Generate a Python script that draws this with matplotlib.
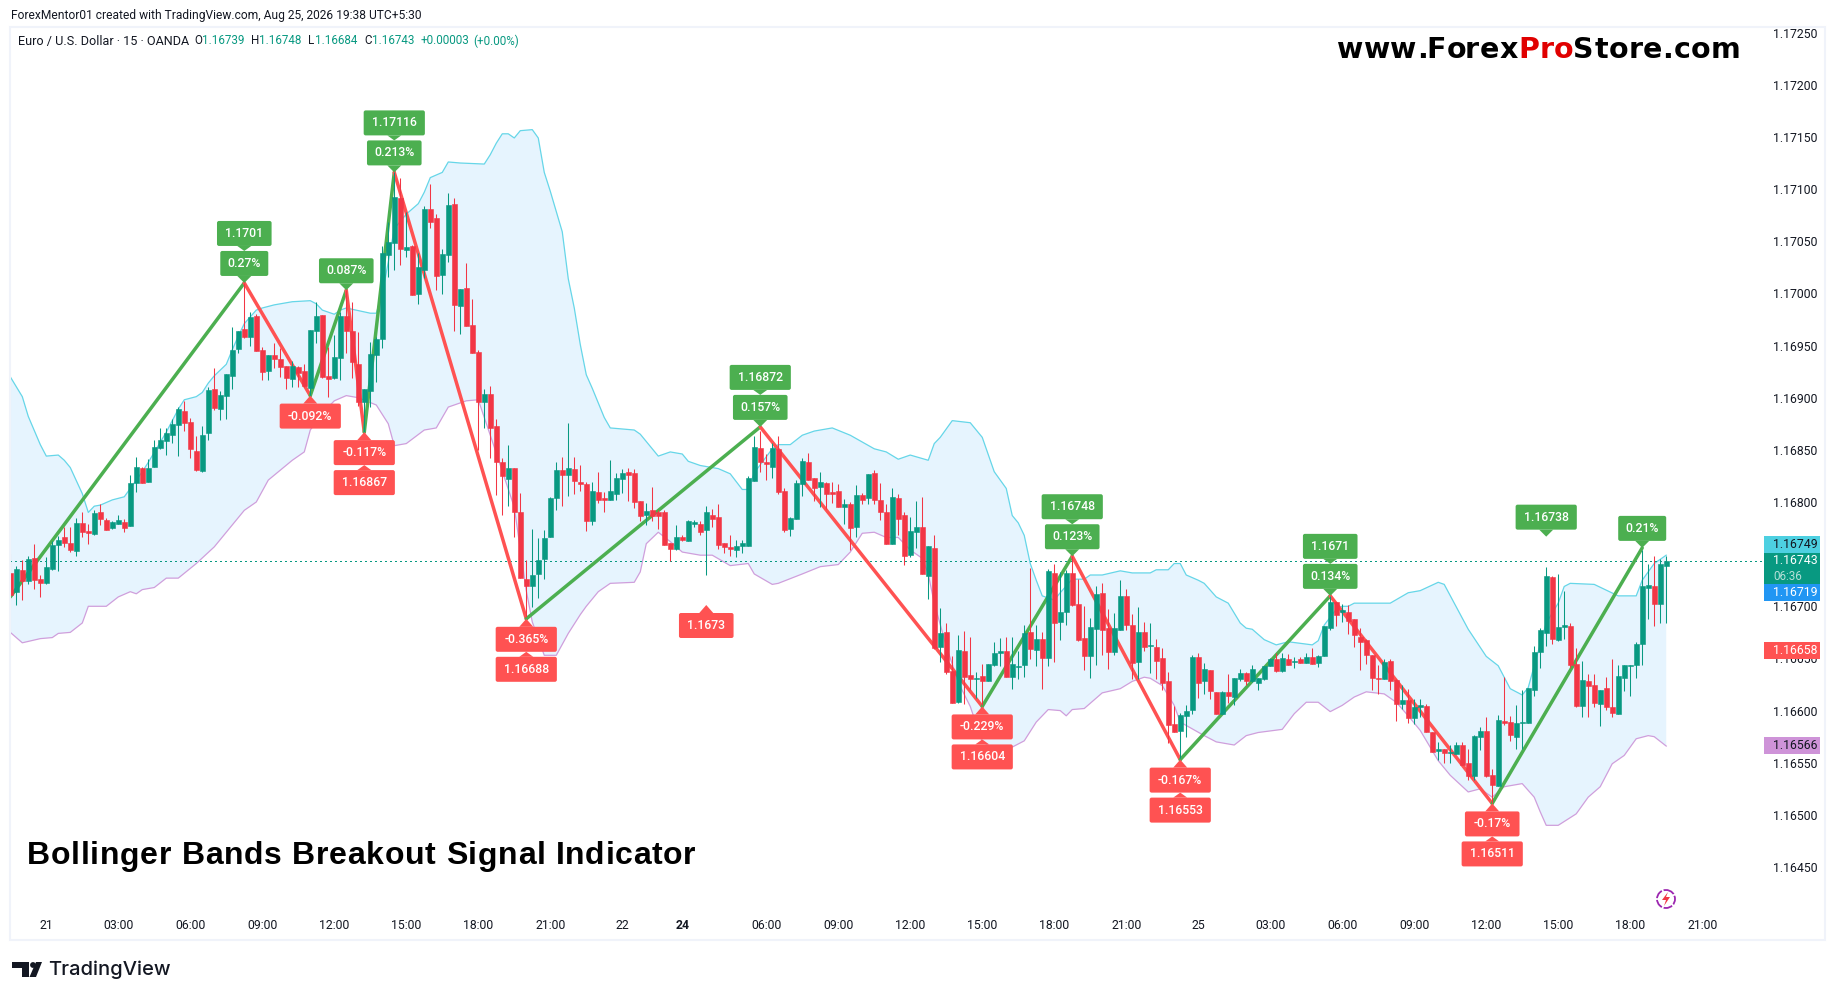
import matplotlib
matplotlib.use("Agg")
import matplotlib.pyplot as plt
from matplotlib.font_manager import FontProperties
from matplotlib.patches import Circle, FancyBboxPatch, Polygon, Rectangle
import numpy as np

# Prices are stored as points above 1.16000, so 743 means 1.16743
opens = [732, 714, 735, 724, 746, 726, 722, 736, 759, 766,
         761, 753, 780, 772, 769, 790, 783, 775, 779, 781,
         777, 818, 833, 819, 834, 852, 858, 864, 874, 887,
         877, 849, 830, 866, 908, 889, 902, 921, 947, 966,
         958, 978, 946, 926, 941, 937, 930, 918, 929, 926,
         909, 964, 979, 921, 919, 938, 978, 964, 932, 896,
         906, 941, 956, 1037, 1048, 1091, 1042, 1045, 999, 1022,
         1081, 1072, 1018, 1037, 1086, 988, 1005, 970, 944, 896,
         904, 873, 838, 822, 833, 790, 726, 719, 731, 745,
         766, 804, 831, 826, 832, 819, 817, 782, 810, 804,
         802, 808, 822, 829, 828, 801, 788, 792, 790, 790,
         761, 755, 766, 763, 779, 779, 773, 788, 786, 761,
         757, 754, 758, 758, 820, 852, 838, 834, 851, 811,
         774, 784, 817, 838, 823, 814, 818, 810, 811, 795,
         798, 776, 807, 804, 828, 802, 790, 760, 804, 788,
         749, 771, 776, 729, 756, 661, 675, 638, 608, 657,
         634, 630, 633, 628, 644, 655, 657, 632, 642, 644,
         675, 658, 669, 650, 732, 685, 695, 732, 702, 670,
         652, 678, 713, 679, 656, 677, 710, 682, 647, 675,
         662, 661, 650, 628, 587, 580, 595, 601, 651, 628,
         639, 618, 597, 618, 613, 630, 636, 628, 626, 630,
         643, 649, 638, 649, 647, 649, 646, 651, 646, 652,
         679, 704, 695, 695, 688, 671, 668, 653, 631, 630,
         648, 629, 606, 610, 593, 603, 604, 579, 561, 563,
         559, 558, 567, 550, 537, 575, 580, 538, 528, 590,
         589, 575, 588, 588, 620, 656, 674, 728, 668, 680,
         681, 645, 604, 628, 625, 606, 622, 603, 597, 631,
         643, 644, 664, 718, 719, 702, 739]
highs = [750, 739, 744, 748, 760, 730, 747, 763, 767, 776,
         776, 785, 790, 779, 792, 798, 785, 782, 788, 784,
         826, 843, 834, 841, 859, 871, 871, 880, 891, 897,
         881, 863, 873, 910, 928, 906, 923, 968, 964, 1010,
         982, 980, 949, 941, 952, 948, 930, 935, 930, 932,
         965, 992, 979, 949, 960, 982, 1003, 992, 963, 908,
         953, 958, 1045, 1068, 1116, 1111, 1078, 1046, 1039, 1084,
         1105, 1076, 1043, 1096, 1091, 1004, 1029, 995, 946, 908,
         911, 880, 842, 855, 833, 809, 744, 774, 765, 773,
         805, 838, 843, 876, 843, 835, 819, 819, 829, 810,
         840, 828, 832, 833, 832, 801, 799, 814, 792, 792,
         761, 778, 768, 783, 783, 782, 796, 793, 798, 761,
         768, 764, 764, 825, 863, 868, 846, 857, 863, 813,
         786, 821, 842, 847, 823, 829, 819, 819, 817, 803,
         800, 816, 809, 827, 831, 818, 798, 813, 808, 790,
         786, 801, 805, 758, 768, 698, 684, 652, 672, 676,
         671, 637, 645, 645, 666, 670, 671, 671, 657, 682,
         737, 682, 675, 736, 741, 733, 735, 748, 726, 700,
         689, 719, 722, 697, 694, 725, 717, 693, 699, 685,
         684, 669, 660, 637, 604, 598, 605, 653, 655, 646,
         639, 618, 619, 635, 631, 640, 637, 644, 631, 643,
         650, 655, 655, 654, 651, 651, 655, 660, 653, 681,
         710, 704, 702, 701, 688, 679, 669, 653, 644, 649,
         649, 630, 625, 621, 611, 611, 606, 579, 570, 563,
         567, 570, 570, 563, 577, 584, 594, 544, 596, 632,
         595, 605, 620, 622, 662, 679, 738, 729, 731, 715,
         684, 660, 648, 635, 635, 620, 632, 649, 644, 644,
         644, 666, 754, 741, 748, 745, 748]
lows = [706, 701, 706, 721, 717, 709, 721, 735, 734, 757,
        752, 748, 766, 760, 768, 778, 773, 774, 779, 771,
        777, 810, 818, 819, 834, 851, 845, 857, 844, 868,
        842, 830, 829, 859, 888, 879, 880, 908, 943, 957,
        950, 945, 917, 917, 928, 920, 908, 910, 910, 910,
        901, 952, 919, 901, 918, 917, 943, 919, 892, 867,
        891, 915, 948, 1016, 1022, 1027, 1035, 998, 990, 1015,
        1063, 1003, 999, 1030, 964, 961, 969, 943, 850, 871,
        842, 807, 788, 796, 766, 727, 690, 699, 708, 726,
        766, 792, 796, 806, 808, 811, 772, 778, 799, 790,
        802, 802, 809, 801, 794, 782, 778, 782, 774, 759,
        743, 754, 763, 763, 776, 768, 730, 776, 755, 751,
        748, 747, 751, 758, 820, 829, 821, 823, 808, 771,
        767, 784, 806, 821, 801, 795, 793, 799, 795, 779,
        754, 766, 798, 798, 798, 783, 760, 760, 768, 740,
        747, 756, 731, 707, 659, 647, 635, 607, 607, 606,
        620, 612, 605, 628, 643, 643, 632, 621, 630, 632,
        649, 643, 621, 643, 647, 668, 682, 700, 667, 639,
        631, 644, 653, 640, 653, 677, 677, 630, 630, 657,
        636, 630, 620, 569, 579, 555, 575, 597, 612, 616,
        611, 597, 597, 607, 605, 628, 625, 627, 620, 629,
        643, 637, 637, 644, 641, 646, 646, 645, 642, 652,
        677, 681, 685, 673, 661, 639, 645, 620, 616, 630,
        620, 590, 602, 588, 587, 594, 579, 560, 553, 550,
        550, 558, 548, 533, 533, 562, 536, 511, 528, 586,
        571, 563, 563, 588, 614, 641, 662, 664, 667, 669,
        641, 603, 594, 594, 603, 585, 601, 594, 597, 619,
        614, 631, 644, 688, 681, 684, 684]
closes = [711, 736, 724, 745, 725, 722, 738, 759, 764, 761,
          754, 780, 771, 770, 789, 784, 773, 781, 783, 775,
          818, 834, 818, 833, 853, 859, 866, 875, 889, 876,
          851, 831, 864, 907, 890, 903, 923, 946, 964, 958,
          977, 945, 925, 941, 937, 929, 919, 930, 924, 911,
          965, 978, 920, 918, 939, 978, 964, 934, 896, 908,
          942, 956, 1039, 1049, 1092, 1043, 1044, 998, 1025, 1081,
          1068, 1017, 1038, 1085, 989, 1004, 969, 943, 896, 904,
          871, 838, 825, 833, 790, 727, 719, 730, 744, 765,
          804, 831, 826, 833, 820, 817, 782, 811, 802, 802,
          811, 823, 828, 826, 800, 787, 791, 787, 787, 759,
          755, 766, 764, 782, 781, 771, 790, 784, 759, 757,
          755, 758, 761, 823, 853, 838, 836, 852, 810, 773,
          785, 818, 839, 821, 813, 819, 808, 808, 795, 798,
          775, 807, 802, 827, 802, 790, 760, 805, 784, 748,
          772, 776, 731, 758, 660, 674, 637, 607, 658, 632,
          630, 631, 628, 645, 655, 657, 632, 645, 643, 674,
          659, 669, 650, 734, 684, 695, 732, 701, 668, 652,
          680, 712, 677, 656, 679, 710, 682, 646, 675, 661,
          663, 648, 626, 586, 579, 596, 600, 651, 626, 640,
          619, 597, 618, 614, 631, 636, 628, 640, 631, 643,
          649, 638, 650, 644, 648, 646, 651, 645, 652, 681,
          704, 692, 696, 686, 672, 666, 653, 631, 630, 647,
          628, 606, 610, 593, 603, 605, 579, 560, 563, 559,
          560, 567, 548, 537, 576, 580, 537, 529, 591, 588,
          577, 588, 589, 622, 656, 677, 729, 669, 680, 682,
          644, 604, 629, 624, 607, 620, 603, 598, 633, 644,
          644, 664, 719, 720, 702, 741, 743]

# Bollinger band vertices (bar number, price points)
upper_bars = [0, 2, 3, 5, 6, 8, 9, 10, 12, 13, 14, 15, 17, 19, 20, 22, 23, 26, 28, 29,
              31, 32, 33, 34, 36, 37, 38, 39, 41, 42, 44, 47, 50, 51, 52, 54, 55, 56, 60, 61,
              62, 63, 64, 66, 68, 69, 70, 72, 73, 75, 79, 80, 81, 82, 83, 84, 85, 87, 88, 89,
              90, 92, 93, 94, 95, 96, 97, 99, 100, 104, 105, 108, 110, 112, 113, 115, 118, 120, 122, 123,
              124, 127, 128, 130, 132, 134, 137, 140, 144, 146, 148, 150, 153, 154, 155, 157, 160, 162, 164, 166,
              167, 168, 169, 170, 171, 172, 174, 175, 177, 179, 180, 182, 185, 187, 190, 191, 193, 194, 195, 196,
              198, 199, 201, 203, 205, 206, 207, 209, 211, 213, 217, 218, 219, 221, 222, 223, 224, 230, 233, 235,
              238, 239, 243, 246, 248, 250, 252, 253, 254, 256, 258, 259, 260, 264, 268, 271, 272, 274, 276]
upper_band = [920, 901, 882, 855, 844, 845, 840, 833, 808, 790, 796, 797, 802, 805, 813, 829, 838, 867, 889, 898,
              901, 905, 914, 921, 932, 946, 959, 971, 984, 986, 989, 992, 993, 990, 984, 980, 984, 986, 981, 981,
              1000, 1030, 1062, 1076, 1086, 1097, 1111, 1116, 1126, 1125, 1124, 1133, 1144, 1153, 1153, 1149, 1156, 1157, 1149, 1116,
              1098, 1059, 1014, 986, 951, 922, 909, 881, 871, 869, 865, 844, 848, 846, 839, 835, 832, 827, 812, 812,
              828, 851, 855, 855, 864, 868, 871, 864, 851, 848, 841, 845, 840, 856, 862, 878, 876, 862, 829, 813,
              787, 780, 768, 741, 725, 710, 706, 713, 726, 726, 730, 730, 734, 732, 732, 735, 735, 741, 741, 730,
              725, 722, 709, 703, 684, 679, 678, 668, 663, 666, 663, 667, 682, 697, 700, 700, 703, 703, 713, 715,
              723, 721, 678, 652, 643, 621, 615, 622, 643, 684, 703, 719, 722, 721, 710, 710, 725, 741, 749]
lower_bars = [0, 2, 5, 7, 8, 10, 12, 13, 16, 18, 20, 21, 22, 24, 26, 28, 31, 34, 39, 41,
              43, 47, 49, 50, 52, 54, 56, 58, 61, 63, 64, 66, 69, 71, 73, 76, 78, 81, 84, 86,
              87, 89, 91, 93, 95, 96, 98, 100, 104, 105, 106, 108, 110, 112, 115, 117, 120, 123, 124, 127,
              128, 132, 135, 138, 140, 142, 144, 146, 148, 150, 152, 153, 154, 156, 158, 160, 162, 165, 167, 169,
              171, 173, 175, 176, 177, 179, 182, 185, 187, 189, 190, 192, 194, 195, 199, 201, 204, 206, 208, 212,
              214, 216, 218, 220, 222, 224, 226, 229, 231, 233, 235, 238, 240, 243, 245, 247, 249, 252, 254, 255,
              256, 258, 261, 263, 265, 267, 269, 271, 273, 274, 276]
lower_band = [675, 665, 669, 670, 674, 675, 684, 700, 700, 709, 714, 712, 716, 718, 727, 727, 741, 757, 792, 800,
              821, 840, 848, 869, 885, 897, 902, 900, 893, 875, 854, 856, 869, 871, 891, 897, 898, 847, 795, 715,
              685, 653, 653, 674, 692, 700, 714, 722, 723, 733, 760, 771, 762, 752, 749, 749, 739, 741, 731, 721,
              722, 731, 738, 740, 752, 770, 771, 766, 766, 754, 746, 731, 703, 662, 627, 604, 570, 560, 565, 571,
              589, 601, 600, 595, 601, 602, 617, 621, 628, 632, 631, 624, 605, 589, 576, 570, 567, 576, 579, 582,
              597, 608, 608, 599, 605, 613, 618, 616, 608, 595, 581, 552, 538, 522, 525, 517, 527, 530, 517, 503,
              490, 490, 501, 517, 527, 549, 557, 573, 576, 575, 566]

# Zigzag turning points
zigzag_bars = [0, 39, 50, 56, 59, 64, 86, 125, 162, 177, 195, 220, 247, 272]
zigzag_prices = [709, 1010, 902, 1003, 867, 1116, 688, 872, 604, 748, 553, 710, 511, 756]

# Signal labels: price text and percent text for each marker
up_bars = [39, 56, 64, 125, 177, 220, 256, 272]
up_prices = [1010, 1003, 1116, 872, 748, 710, 738, 756]
up_price_text = ["1.1701", "", "1.17116", "1.16872", "1.16748", "1.1671", "1.16738", ""]
up_pct_text = ["0.27%", "0.087%", "0.213%", "0.157%", "0.123%", "0.134%", "", "0.21%"]
down_bars = [50, 59, 86, 116, 162, 195, 247]
down_prices = [902, 867, 688, 730, 604, 553, 511]
down_price_text = ["", "1.16867", "1.16688", "1.1673", "1.16604", "1.16553", "1.16511"]
down_pct_text = ["-0.092%", "-0.117%", "-0.365%", "", "-0.229%", "-0.167%", "-0.17%"]

# Axis ticks, the 1.16750 label sits behind the price tags so it stays blank
x_tick_bars = [6, 18, 30, 42, 54, 66, 78, 90, 102, 112, 126, 138, 150, 162, 174, 186, 198,
               210, 222, 234, 246, 258, 270, 282]
x_tick_labels = ["21", "03:00", "06:00", "09:00", "12:00", "15:00", "18:00", "21:00", "22", "24",
                 "06:00", "09:00", "12:00", "15:00", "18:00", "21:00", "25",
                 "03:00", "06:00", "09:00", "12:00", "15:00", "18:00", "21:00"]
y_ticks = [1.17250, 1.17200, 1.17150, 1.17100, 1.17050, 1.17000, 1.16950, 1.16900, 1.16850,
           1.16800, 1.16700, 1.16650, 1.16600, 1.16550, 1.16500, 1.16450]
last_price = 743

GREEN = "#089981"
RED = "#f23645"
SIGNAL_GREEN = "#4caf50"
SIGNAL_RED = "#ff5252"
BAND_FILL = "#e6f4fe"
BAND_UP = "#66d6e8"
BAND_LOW = "#cf9fdc"
TEXT = "#131722"
FONT = "Roboto"


def price(points):
    return 1.16 + np.asarray(points, dtype=float) / 100000


def draw_candles(ax):
    bars = np.arange(len(opens))
    o, h, l, c = price(opens), price(highs), price(lows), price(closes)
    colors = [GREEN if closes[i] >= opens[i] else RED for i in bars]
    ax.vlines(bars, l, h, colors=colors, linewidth=0.75, zorder=5)
    bottoms = np.minimum(o, c)
    heights = np.abs(c - o)
    ax.bar(bars, heights, bottom=bottoms, width=0.78, color=colors, edgecolor=colors,
           linewidth=0.4, zorder=6)


def draw_zigzag(ax):
    for k in range(len(zigzag_bars) - 1):
        color = SIGNAL_GREEN if zigzag_prices[k + 1] > zigzag_prices[k] else SIGNAL_RED
        ax.plot(zigzag_bars[k:k + 2], price(zigzag_prices[k:k + 2]), color=color,
                linewidth=2.5, solid_capstyle="round", zorder=4)


# Draws one rounded label box with a little triangle pointing at tip_y
def draw_box(over, cx, top, tip_y, text, color):
    width = 15 + 6.6 * len(text)
    height = 25
    over.add_patch(FancyBboxPatch((cx - width / 2, top), width, height,
                                  boxstyle="round,pad=0,rounding_size=2", facecolor=color,
                                  edgecolor="none", zorder=10))
    base_y = top if tip_y < top else top + height
    over.add_patch(Polygon([(cx - 7, base_y), (cx + 7, base_y), (cx, tip_y)], facecolor=color,
                           edgecolor="none", zorder=10))
    over.text(cx, top + height / 2, text, color="white", fontsize=8.8, fontweight="medium",
              family=FONT, ha="center", va="center", zorder=11)


def draw_labels(ax, over):
    for bar, value, price_text, pct_text in zip(up_bars, up_prices, up_price_text, up_pct_text):
        x, y = ax.transData.transform((bar, price(value)))
        y = 1000 - y
        if pct_text:
            draw_box(over, x, y - 32, y, pct_text, SIGNAL_GREEN)
        if price_text:
            draw_box(over, x, y - 62, y - 32 if pct_text else y - 30, price_text, SIGNAL_GREEN)
    for bar, value, price_text, pct_text in zip(down_bars, down_prices, down_price_text, down_pct_text):
        x, y = ax.transData.transform((bar, price(value)))
        y = 1000 - y
        if pct_text:
            draw_box(over, x, y + 8, y, pct_text, SIGNAL_RED)
        if price_text:
            draw_box(over, x, y + 38, y + 33 if pct_text else y + 30, price_text, SIGNAL_RED)


def draw_price_tags(over):
    tags = [(536, 16.7, "1.16749", "#4dd0e1", TEXT),
            (584, 16.7, "1.16719", "#2196f3", "white"),
            (642, 16.7, "1.16658", SIGNAL_RED, "white"),
            (737, 16.7, "1.16566", "#ce93d8", TEXT)]
    for top, height, text, face, color in tags:
        over.add_patch(Rectangle((1764, top), 56, height, facecolor=face, edgecolor="none", zorder=10))
        over.text(1773, top + height / 2, text, color=color, fontsize=8.8, family=FONT,
                  va="center", zorder=11)
    over.add_patch(Rectangle((1764, 552.7), 56, 31.3, facecolor=GREEN, edgecolor="none", zorder=10))
    over.text(1773, 561, "1.16743", color="white", fontsize=8.8, family=FONT, va="center", zorder=11)
    over.text(1773, 576.5, "06:36", color="#b6e0d8", fontsize=8.4, family=FONT, va="center", zorder=11)


def draw_header(over):
    over.text(10.5, 15, "ForexMentor01 created with TradingView.com, Aug 25, 2026 19:38 UTC+5:30",
              color=TEXT, fontsize=8.65, family=FONT, va="center")
    over.text(18, 41, "Euro / U.S. Dollar · 15 · OANDA", color=TEXT, fontsize=9.1, family=FONT, va="center")
    parts = [(194, "O", TEXT), (202, "1.16739", GREEN),
             (251, "H", TEXT), (259, "1.16748", GREEN), (308, "L", TEXT), (315, "1.16684", GREEN),
             (364, "C", TEXT), (372, "1.16743", GREEN), (420.5, "+0.00003", GREEN),
             (473.5, "(+0.00%)", GREEN)]
    for x, text, color in parts:
        over.text(x, 41, text, color=color, fontsize=8.4, family=FONT, va="center")


# Writes text letter by letter so extra spacing can be put between the letters
def draw_spaced(fig, over, x, baseline, parts, spacing, size, family):
    renderer = fig.canvas.get_renderer()
    font = FontProperties(family=family, weight="bold", size=size)
    bar_width = renderer.get_text_width_height_descent("|", font, False)[0]
    for text, color in parts:
        for k, letter in enumerate(text):
            before = renderer.get_text_width_height_descent(text[:k] + "|", font, False)[0] - bar_width
            over.text(x + before + k * spacing, baseline, letter, color=color, fontproperties=font,
                      va="baseline", zorder=9)
        x += renderer.get_text_width_height_descent(text + "|", font, False)[0] - bar_width
        x += len(text) * spacing


def draw_logo(over):
    color = "#131722"
    over.add_patch(Polygon([(12, 962), (29, 962), (29, 977), (22, 977), (22, 968), (12, 968)],
                           facecolor=color, edgecolor="none"))
    over.add_patch(Circle((33, 965), 2.9, facecolor=color, edgecolor="none"))
    over.add_patch(Polygon([(36, 962), (42, 962), (36, 977), (29.5, 977)], facecolor=color,
                           edgecolor="none"))
    over.text(48, 970, "TradingView", color=color, fontsize=14.5, fontweight="medium",
              family="Inter", va="center")


def draw_bolt(over):
    over.add_patch(Circle((1666, 899), 9, facecolor="none", edgecolor="#9c27b0", linewidth=1.3,
                          linestyle=(0, (5, 1)), zorder=9))
    over.add_patch(Polygon([(1668, 892), (1662, 900), (1666, 900), (1664, 906), (1670, 897), (1666, 897)],
                           facecolor="#f23645", edgecolor="none", zorder=9))


def main():
    fig = plt.figure(figsize=(18.35, 10), dpi=100, facecolor="white")
    # Pane runs from x=10 to 1764 and y=27 to 912 in pixels
    ax = fig.add_axes([10 / 1835, 1 - 912 / 1000, (1764 - 10) / 1835, (912 - 27) / 1000])
    ax.set_xlim(-0.05, 292.3)
    ax.set_ylim(1.164069, 1.172554)

    band_x = np.r_[upper_bars, lower_bars[::-1]]
    band_y = np.r_[price(upper_band), price(lower_band)[::-1]]
    ax.fill(band_x, band_y, color=BAND_FILL, linewidth=0, zorder=1)
    ax.plot(upper_bars, price(upper_band), color=BAND_UP, linewidth=0.9, zorder=2)
    ax.plot(lower_bars, price(lower_band), color=BAND_LOW, linewidth=0.9, zorder=2)

    ax.axhline(price(last_price), color=GREEN, linewidth=0.75, linestyle=(0, (1, 3)),
               antialiased=False, zorder=3)
    draw_zigzag(ax)
    draw_candles(ax)

    for spine in ax.spines.values():
        spine.set_visible(False)
    ax.set_xticks(x_tick_bars)
    ax.set_xticklabels(x_tick_labels, fontsize=8.8, family=FONT, color=TEXT)
    ax.set_yticks(y_ticks)
    ax.set_yticklabels([f"{v:.5f}" for v in y_ticks], fontsize=8.8, family=FONT, color=TEXT)
    ax.yaxis.tick_right()
    ax.tick_params(axis="both", length=0)
    ax.tick_params(axis="x", pad=5.3)
    ax.tick_params(axis="y", pad=6.5)
    ax.get_xticklabels()[9].set_fontweight("bold")

    # Pixel overlay for the labels and texts that sit on top of the chart
    over = fig.add_axes([0, 0, 1, 1], facecolor="none")
    over.set_xlim(0, 1835)
    over.set_ylim(1000, 0)
    over.axis("off")
    over.add_patch(Rectangle((9.5, 26.5), 1815, 913, facecolor="none", edgecolor="#f0f3fa", linewidth=1.5))

    draw_labels(ax, over)
    draw_price_tags(over)
    draw_header(over)
    draw_spaced(fig, over, 1337, 58, [("www.Forex", "black"), ("Pro", "#e00000"), ("Store.com", "black")],
                0.35, 20.5, "DejaVu Sans")
    draw_spaced(fig, over, 27, 864.5, [("Bollinger Bands Breakout Signal Indicator", "black")],
                0.7, 23, "Liberation Sans")
    draw_logo(over)
    draw_bolt(over)

    fig.savefig("out.png", dpi=100)
    plt.close(fig)


if __name__ == "__main__":
    main()
